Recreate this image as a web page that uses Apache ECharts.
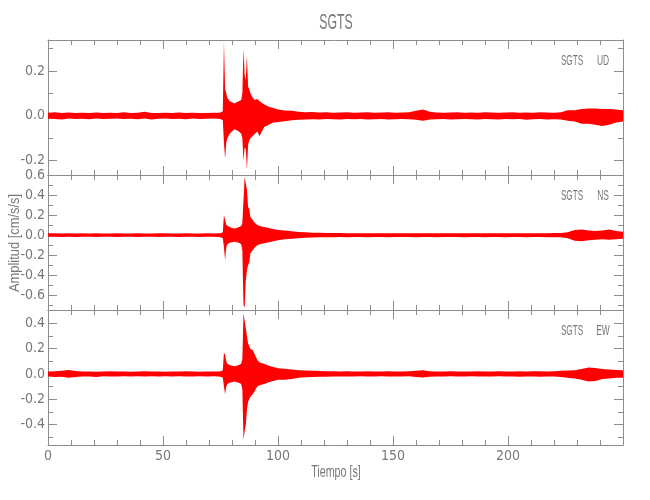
<!DOCTYPE html>
<html><head><meta charset="utf-8">
<script src="https://cdn.jsdelivr.net/npm/echarts@6/dist/echarts.min.js"></script>
<style>html,body{margin:0;padding:0;background:#fff}#c{width:650px;height:500px}</style>
</head><body><div id="c"></div>
<script>
// time samples (s) of the read envelope
const times = [
  0,3,6,9,12,15,18,21,24,27,30,33,36,39,42,45,48,51,54,57,60,63,66,69,72,
  74,75,76,76.5,77,77.5,78,79,80,81,82,83,84,84.5,85,85.5,86,86.5,87,87.5,88,89,90,91,92,94,96,98,100,
  103,106,109,112,115,118,121,124,127,130,
  133,136,139,142,145,148,151,154,157,160,
  163,166,169,172,175,178,181,184,187,190,
  193,196,199,202,205,208,211,214,217,220,
  223,226,229,232,235,238,241,244,247,250
];
// SGTS UD envelope (cm/s/s)
const udHi = [
  0.014,0.016,0.013,0.015,0.012,0.014,0.013,0.015,0.012,0.014,0.013,0.016,0.012,0.014,0.018,0.013,0.012,0.014,0.013,0.015,0.012,0.014,0.013,0.012,0.014,
  0.014,0.015,0.02,0.33,0.12,0.10,0.08,0.065,0.06,0.055,0.06,0.065,0.07,0.10,0.30,0.18,0.16,0.27,0.13,0.12,0.10,0.08,0.07,0.075,0.065,0.05,0.04,0.035,0.028,
  0.024,0.022,0.018,0.016,0.017,0.015,0.016,0.014,0.015,0.016,
  0.014,0.015,0.016,0.014,0.015,0.016,0.014,0.015,0.016,0.022,
  0.028,0.018,0.015,0.014,0.015,0.016,0.014,0.015,0.014,0.016,
  0.015,0.014,0.015,0.016,0.014,0.015,0.014,0.016,0.015,0.014,
  0.016,0.025,0.025,0.03,0.033,0.032,0.03,0.03,0.028,0.025
];
const udLo = [
  -0.013,-0.014,-0.016,-0.012,-0.014,-0.013,-0.015,-0.012,-0.014,-0.013,-0.012,-0.014,-0.013,-0.015,-0.012,-0.016,-0.013,-0.012,-0.014,-0.013,-0.015,-0.012,-0.014,-0.013,-0.012,
  -0.013,-0.014,-0.02,-0.12,-0.19,-0.12,-0.10,-0.08,-0.07,-0.06,-0.065,-0.07,-0.08,-0.10,-0.20,-0.14,-0.15,-0.24,-0.13,-0.11,-0.10,-0.09,-0.08,-0.07,-0.09,-0.05,-0.04,-0.03,-0.028,
  -0.024,-0.02,-0.018,-0.016,-0.015,-0.016,-0.014,-0.015,-0.016,-0.014,
  -0.015,-0.014,-0.016,-0.015,-0.014,-0.016,-0.015,-0.014,-0.015,-0.018,
  -0.022,-0.016,-0.015,-0.014,-0.016,-0.015,-0.014,-0.015,-0.016,-0.014,
  -0.015,-0.016,-0.014,-0.015,-0.014,-0.018,-0.015,-0.014,-0.016,-0.015,
  -0.016,-0.022,-0.025,-0.035,-0.035,-0.04,-0.045,-0.04,-0.03,-0.025
];
// SGTS NS envelope
const nsHi = [
  0.018,0.02,0.016,0.018,0.017,0.019,0.016,0.018,0.017,0.016,0.018,0.017,0.016,0.018,0.017,0.016,0.018,0.019,0.017,0.016,0.018,0.017,0.016,0.018,0.017,
  0.018,0.02,0.03,0.20,0.15,0.10,0.09,0.08,0.07,0.065,0.07,0.08,0.09,0.12,0.35,0.58,0.57,0.45,0.28,0.26,0.18,0.15,0.12,0.10,0.09,0.08,0.07,0.06,0.05,
  0.045,0.038,0.032,0.028,0.025,0.024,0.022,0.022,0.021,0.02,
  0.019,0.02,0.018,0.019,0.02,0.018,0.019,0.02,0.018,0.019,
  0.02,0.018,0.019,0.018,0.02,0.019,0.018,0.02,0.019,0.018,
  0.02,0.019,0.018,0.02,0.019,0.018,0.02,0.019,0.02,0.021,
  0.022,0.03,0.05,0.055,0.045,0.04,0.045,0.055,0.04,0.035
];
const nsLo = [
  -0.017,-0.016,-0.018,-0.017,-0.019,-0.016,-0.017,-0.018,-0.016,-0.017,-0.018,-0.016,-0.017,-0.019,-0.016,-0.017,-0.018,-0.016,-0.017,-0.018,-0.016,-0.017,-0.018,-0.016,-0.017,
  -0.018,-0.02,-0.03,-0.12,-0.25,-0.12,-0.09,-0.075,-0.07,-0.065,-0.07,-0.075,-0.09,-0.15,-0.70,-0.72,-0.45,-0.35,-0.30,-0.27,-0.18,-0.15,-0.12,-0.10,-0.09,-0.08,-0.07,-0.06,-0.05,
  -0.042,-0.036,-0.03,-0.027,-0.024,-0.022,-0.021,-0.02,-0.019,-0.02,
  -0.018,-0.019,-0.02,-0.018,-0.019,-0.02,-0.018,-0.019,-0.018,-0.02,
  -0.019,-0.018,-0.02,-0.019,-0.018,-0.019,-0.02,-0.018,-0.019,-0.02,
  -0.018,-0.019,-0.02,-0.018,-0.019,-0.02,-0.018,-0.019,-0.02,-0.021,
  -0.022,-0.03,-0.055,-0.06,-0.05,-0.045,-0.04,-0.045,-0.04,-0.035
];
// SGTS EW envelope
const ewHi = [
  0.02,0.022,0.025,0.032,0.024,0.02,0.019,0.018,0.02,0.021,0.019,0.02,0.018,0.02,0.021,0.019,0.02,0.018,0.02,0.019,0.021,0.02,0.018,0.02,0.019,
  0.02,0.022,0.03,0.17,0.15,0.10,0.08,0.07,0.065,0.06,0.065,0.07,0.08,0.12,0.48,0.42,0.36,0.30,0.24,0.22,0.20,0.19,0.15,0.11,0.09,0.08,0.065,0.055,0.045,
  0.042,0.036,0.03,0.027,0.025,0.024,0.022,0.021,0.02,0.021,
  0.019,0.02,0.021,0.019,0.02,0.021,0.02,0.019,0.021,0.026,
  0.03,0.022,0.02,0.019,0.021,0.02,0.019,0.02,0.021,0.02,
  0.019,0.021,0.02,0.019,0.021,0.02,0.022,0.021,0.02,0.022,
  0.025,0.028,0.03,0.04,0.05,0.048,0.04,0.035,0.032,0.03
];
const ewLo = [
  -0.02,-0.024,-0.022,-0.03,-0.025,-0.021,-0.02,-0.024,-0.018,-0.02,-0.021,-0.019,-0.02,-0.018,-0.02,-0.019,-0.021,-0.018,-0.02,-0.019,-0.02,-0.021,-0.019,-0.02,-0.018,
  -0.02,-0.022,-0.03,-0.10,-0.16,-0.10,-0.08,-0.07,-0.065,-0.06,-0.065,-0.07,-0.08,-0.12,-0.52,-0.45,-0.40,-0.28,-0.22,-0.20,-0.18,-0.16,-0.13,-0.10,-0.09,-0.08,-0.065,-0.055,-0.045,
  -0.045,-0.04,-0.03,-0.027,-0.025,-0.023,-0.022,-0.021,-0.02,-0.021,
  -0.02,-0.019,-0.021,-0.02,-0.019,-0.02,-0.021,-0.02,-0.019,-0.024,
  -0.028,-0.022,-0.02,-0.021,-0.019,-0.02,-0.021,-0.019,-0.02,-0.021,
  -0.02,-0.019,-0.021,-0.02,-0.022,-0.021,-0.02,-0.022,-0.021,-0.02,
  -0.025,-0.03,-0.035,-0.045,-0.06,-0.055,-0.04,-0.035,-0.03,-0.03
];
// axis ranges and tick values
const xRange = [0, 250];
const udRange = [-0.264, 0.338];
const nsRange = [-0.747, 0.6];
const ewRange = [-0.561, 0.505];
const udMajor = [-0.2, 0, 0.2];
const udMinor = [-0.2, -0.1, 0, 0.1, 0.2, 0.3];
const nsMajor = [-0.6, -0.4, -0.2, 0, 0.2, 0.4, 0.6];
const nsMinor = [-0.7, -0.6, -0.5, -0.4, -0.3, -0.2, -0.1, 0, 0.1, 0.2, 0.3, 0.4, 0.5, 0.6];
const ewMajor = [-0.4, -0.2, 0, 0.2, 0.4];
const ewMinor = [-0.5, -0.4, -0.3, -0.2, -0.1, 0, 0.1, 0.2, 0.3, 0.4, 0.5];
const station = 'SGTS';
const components = ['UD', 'NS', 'EW'];

const AX = '#8c8c8c', TX = '#787878', RED = '#ff0000';
const FONT = "'Liberation Sans Narrow','DejaVu Sans Condensed','Liberation Sans',sans-serif";
const channels = [
  {hi: udHi, lo: udLo, range: udRange, major: udMajor, minor: udMinor},
  {hi: nsHi, lo: nsLo, range: nsRange, major: nsMajor, minor: nsMinor},
  {hi: ewHi, lo: ewLo, range: ewRange, major: ewMajor, minor: ewMinor}
];
const tops = [40, 175, 310];
const grid = [], xAxis = [], yAxis = [], series = [], graphic = [];

channels.forEach((c, i) => {
  grid.push({left: 48, right: 27, top: tops[i], height: 135, containLabel: false, outerBoundsMode: 'none'});
  ['bottom', 'top'].forEach(pos => xAxis.push({
    type: 'value', gridIndex: i, position: pos, min: xRange[0], max: xRange[1], interval: 50,
    axisLine: {show: true, onZero: false, lineStyle: {color: AX, width: 1}},
    axisTick: {show: true, inside: true, length: 9, lineStyle: {color: AX}},
    minorTick: {show: true, splitNumber: 5, length: 5, lineStyle: {color: AX}},
    axisLabel: {show: pos === 'bottom' && i === 2, margin: 4, color: TX, fontSize: 14, fontFamily: FONT, showMaxLabel: false},
    splitLine: {show: false}, minorSplitLine: {show: false}
  }));
  ['left', 'right'].forEach(pos => {
    yAxis.push({
      type: 'value', gridIndex: i, position: pos, min: c.range[0], max: c.range[1],
      axisLine: {show: true, onZero: false, lineStyle: {color: AX, width: 1}},
      axisTick: {show: true, inside: true, length: 9, customValues: c.major, lineStyle: {color: AX}},
      axisLabel: {show: pos === 'left', customValues: c.major, formatter: v => Number(v).toFixed(1),
        margin: 3, color: TX, fontSize: 14, fontFamily: FONT},
      splitLine: {show: false}
    });
    yAxis.push({
      type: 'value', gridIndex: i, position: pos, min: c.range[0], max: c.range[1],
      axisLine: {show: false, onZero: false},
      axisTick: {show: true, inside: true, length: 5, customValues: c.minor, lineStyle: {color: AX}},
      axisLabel: {show: false},
      splitLine: {show: false}
    });
  });
  // upper envelope filled down past zero, lower envelope filled up past zero: union = band
  [['hi', -0.004], ['lo', 0.004]].forEach(([k, org]) => series.push({
    type: 'line', xAxisIndex: 2 * i, yAxisIndex: 4 * i,
    data: times.map((t, j) => [t, c[k][j]]),
    symbol: 'none', showSymbol: false, silent: true, clip: true,
    lineStyle: {color: RED, width: 0},
    areaStyle: {color: RED, opacity: 1, origin: org}
  }));
  graphic.push({type: 'text', x: 572, y: tops[i] + 21, scaleX: 0.58,
    style: {text: station, fontSize: 14, fontFamily: 'Liberation Sans', fill: TX, align: 'center', verticalAlign: 'middle'}});
  graphic.push({type: 'text', x: 603, y: tops[i] + 21, scaleX: 0.6,
    style: {text: components[i], fontSize: 14, fontFamily: 'Liberation Sans', fill: TX, align: 'center', verticalAlign: 'middle'}});
});

graphic.push({type: 'text', x: 336, y: 23, scaleX: 0.56,
  style: {text: station, fontSize: 22, fontFamily: 'Liberation Sans', fill: TX, align: 'center', verticalAlign: 'middle'}});
graphic.push({type: 'text', x: 336, y: 472, scaleX: 0.63,
  style: {text: 'Tiempo [s]', fontSize: 17, fontFamily: 'Liberation Sans', fill: TX, align: 'center', verticalAlign: 'middle'}});
graphic.push({type: 'text', x: 15, y: 243, rotation: Math.PI / 2, scaleX: 0.86,
  style: {text: 'Amplitud [cm/s/s]', fontSize: 15, fontFamily: 'Liberation Sans', fill: TX, align: 'center', verticalAlign: 'middle'}});

const chart = echarts.init(document.getElementById('c'), null, {renderer: 'canvas'});
chart.setOption({
  animation: false,
  backgroundColor: '#ffffff',
  grid, xAxis, yAxis, series, graphic
});
</script>
</body></html>
